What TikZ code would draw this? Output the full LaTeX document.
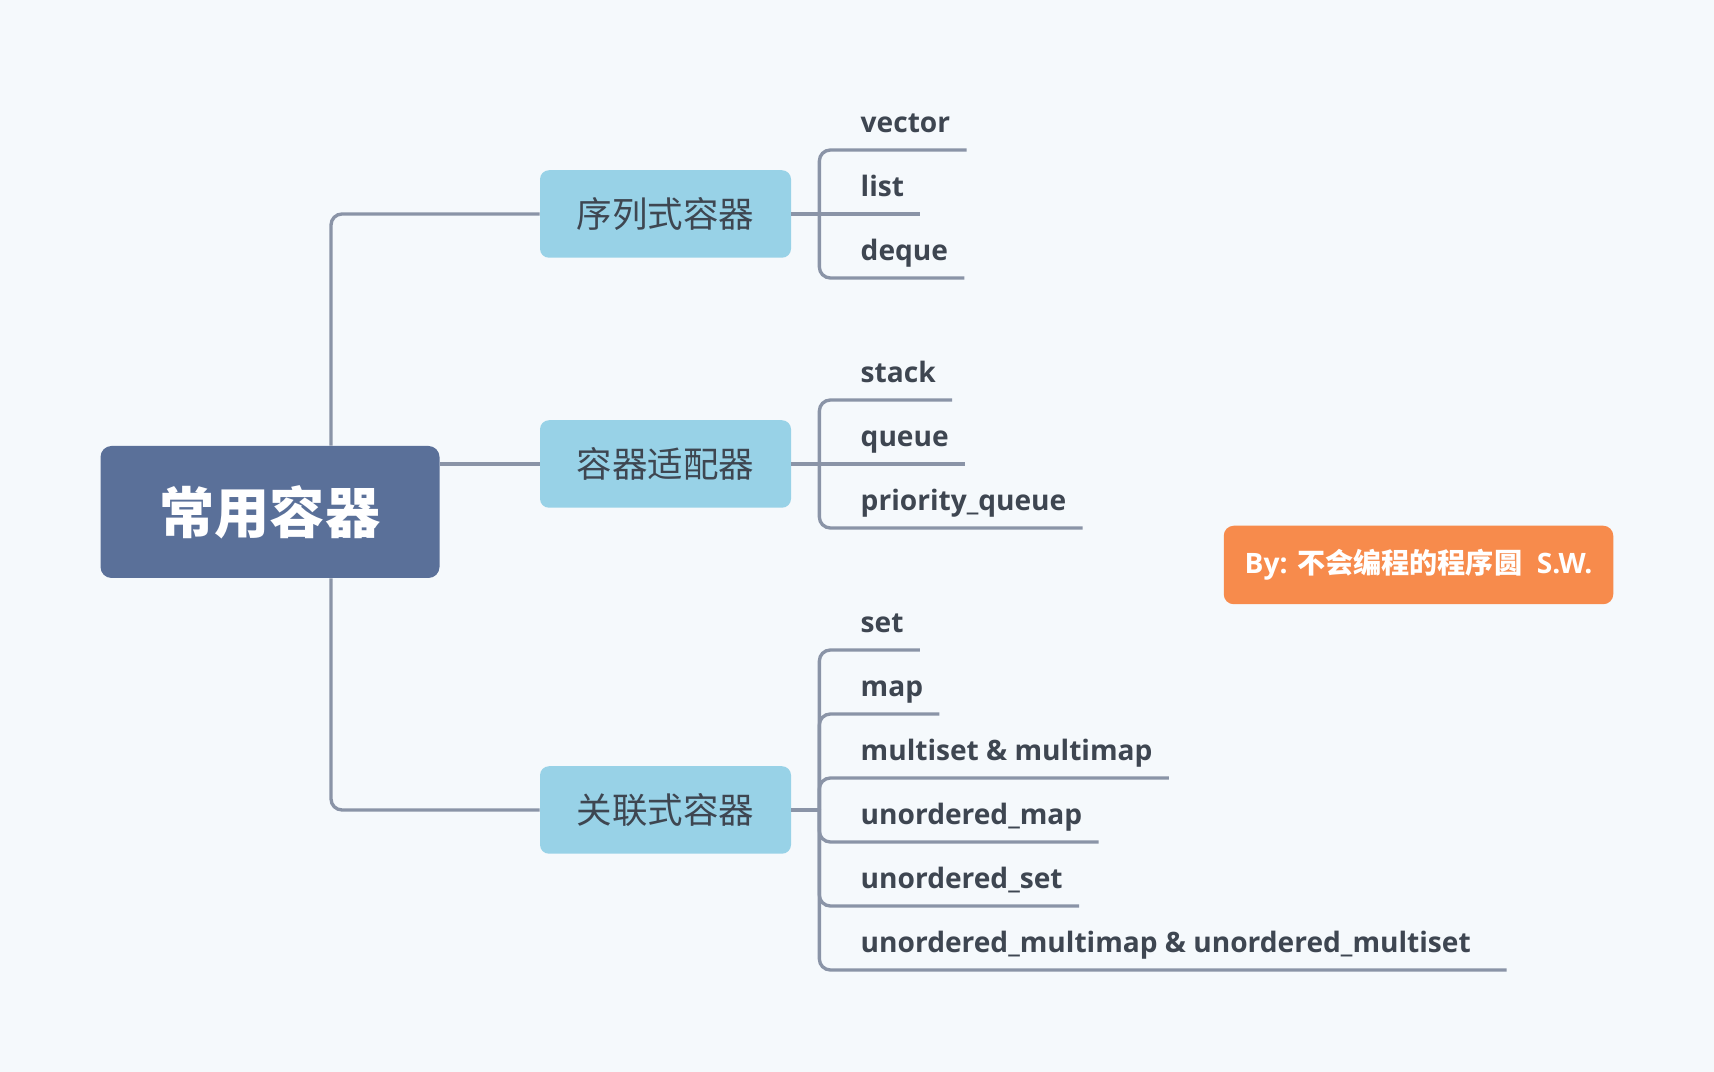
\documentclass[tikz,border=0pt]{standalone}
\usepackage{fontspec}
\setmainfont{Open Sans}
\newfontfamily\cjk{Noto Sans CJK SC}
\usetikzlibrary{calc}
\usetikzlibrary{positioning}

\definecolor{bgpaper}{HTML}{F5F9FC}
\definecolor{rootblue}{HTML}{5A7099}
\definecolor{boxblue}{HTML}{98D2E7}
\definecolor{linkgray}{HTML}{8A94A7}
\definecolor{txtgray}{HTML}{3E4651}
\definecolor{signorange}{HTML}{F78B4C}

\tikzset{
  rootbox/.style={fill=rootblue, rounded corners=0.22cm, minimum width=6.78cm, minimum height=2.64cm, text=white, font=\cjk\bfseries\fontsize{31.4}{36}\selectfont},
  catbox/.style={fill=boxblue, rounded corners=0.18cm, minimum width=5.02cm, minimum height=1.75cm, text=txtgray, font=\cjk\fontsize{20.2}{24}\selectfont},
  leaf/.style={anchor=south west, inner xsep=0.32cm, inner ysep=0pt, text height=0.5cm, text depth=0.34cm, text=txtgray, font=\bfseries\fontsize{16}{20}\selectfont},
  link/.style={draw=linkgray, line width=1.9pt, rounded corners=0.22cm},
  signbox/.style={fill=signorange, rounded corners=0.2cm, minimum width=7.79cm, minimum height=1.57cm, text=white, font=\bfseries\fontsize{16}{20}\selectfont}
}

\begin{document}
\begin{tikzpicture}
% paper
\fill[bgpaper] (0,0) rectangle (34.28,21.44);

% main nodes
\node[rootbox] (root) at (5.40, 11.20) {常用容器};
\node[catbox] (seq) at (13.31, 17.16) {序列式容器};
\node[catbox] (adapt) at (13.31, 12.16) {容器适配器};
\node[catbox] (assoc) at (13.31, 5.24) {关联式容器};
\node[signbox] (sign) at (28.37, 10.14) {By: {\cjk 不会编程的程序圆}\ \ S.W.};

% trunk
\coordinate (trunk) at (6.62, 0);
\draw[link] (root.north -| trunk) |- (seq.west);
\draw[link] (adapt.west) -- (adapt.west -| root.east);
\draw[link] (root.south -| trunk) |- (assoc.west);

% hubs right of the boxes
\coordinate (hubA) at ($(seq.east)+(0.56,0)$);
\coordinate (hubB) at ($(adapt.east)+(0.56,0)$);
\coordinate (hubC) at ($(assoc.east)+(0.56,0)$);

% sequence containers
\node[leaf] (vector) at ($(hubA)+(0.5,1.28)$) {vector};
\node[leaf] (list) at ($(hubA)+(0.5,0)$) {list};
\node[leaf] (deque) at ($(hubA)+(0.5,-1.28)$) {deque};
\draw[link] (seq.east) -- (list.south east);
\draw[link] (hubA) |- (vector.south east);
\draw[link] (hubA) |- (deque.south east);

% adapters
\node[leaf] (stack) at ($(hubB)+(0.5,1.28)$) {stack};
\node[leaf] (queue) at ($(hubB)+(0.5,0)$) {queue};
\node[leaf] (pqueue) at ($(hubB)+(0.5,-1.28)$) {priority\_queue};
\draw[link] (adapt.east) -- (queue.south east);
\draw[link] (hubB) |- (stack.south east);
\draw[link] (hubB) |- (pqueue.south east);

% associative containers
\node[leaf] (set) at ($(hubC)+(0.5,3.20)$) {set};
\node[leaf] (map) at ($(hubC)+(0.5,1.92)$) {map};
\node[leaf] (multi) at ($(hubC)+(0.5,0.64)$) {multiset \& multimap};
\node[leaf] (umap) at ($(hubC)+(0.5,-0.64)$) {unordered\_map};
\node[leaf] (uset) at ($(hubC)+(0.5,-1.92)$) {unordered\_set};
\node[leaf] (umulti) at ($(hubC)+(0.5,-3.20)$) {unordered\_multimap \& unordered\_multiset};
\draw[link] (assoc.east) -- (hubC);
\draw[link] (hubC) |- (set.south east);
\draw[link] (hubC) |- (map.south east);
\draw[link] (hubC) |- (multi.south east);
\draw[link] (hubC) |- (umap.south east);
\draw[link] (hubC) |- (uset.south east);
\draw[link] (hubC) |- ($(umulti.south east)+(0.39,0)$);
\end{tikzpicture}
\end{document}
